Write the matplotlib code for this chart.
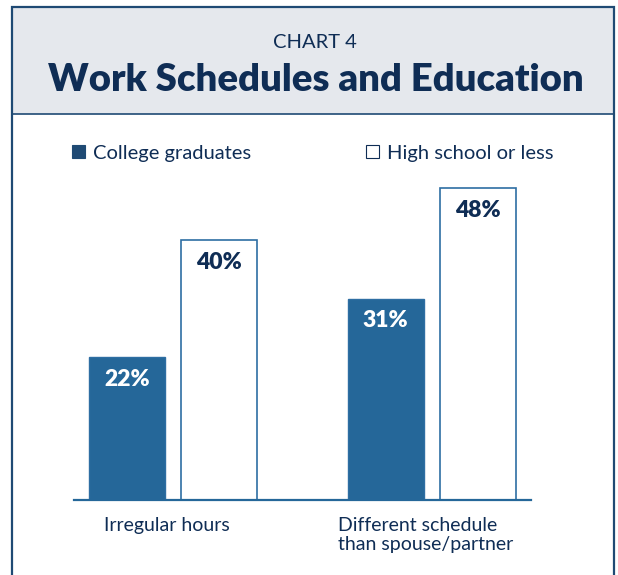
#!/usr/bin/env python3
"""Chart 4: work schedules and education (grouped bars)."""

import matplotlib

matplotlib.use("Agg")
import matplotlib.pyplot as plt
from matplotlib.patches import Patch, Rectangle

# data
categories = ["Irregular hours", "Different schedule\nthan spouse/partner"]
series_names = ["College graduates", "High school or less"]
college = [22, 31]
high_school = [40, 48]

NAVY = "#0f2d55"
BLUE = "#256799"
EDGE = "#2e6ea3"
BORDER = "#1f4a74"
HEADER_BG = "#e5e8ed"

W, H = 618, 575
plt.rcParams["font.family"] = ["Lato", "DejaVu Sans"]

fig = plt.figure(figsize=(W / 100, H / 100), dpi=100)


def fx(px):
    return px / W


def fy(py):
    return 1 - py / H


# outer box and header band
fig.patches.append(
    Rectangle((fx(12), fy(114)), fx(614) - fx(12), fy(7) - fy(114),
              transform=fig.transFigure, facecolor=HEADER_BG, edgecolor="none",
              zorder=0)
)
fig.patches.append(
    Rectangle((fx(12), -0.05), fx(614) - fx(12), fy(7) + 0.05,
              transform=fig.transFigure, facecolor="none", edgecolor=BORDER,
              linewidth=1.6, zorder=5)
)
fig.lines.append(
    plt.Line2D([fx(12), fx(614)], [fy(114), fy(114)], transform=fig.transFigure,
               color=BORDER, linewidth=1.2, zorder=5)
)

fig.text(fx(315), fy(42), "CHART 4", ha="center", va="center",
         fontsize=14.5, color=NAVY)
fig.text(fx(316), fy(80), "Work Schedules and Education", ha="center",
         va="center", fontsize=27.5, fontweight="heavy", color=NAVY)

# axes: baseline runs from x=74 to x=531 px at y=500 px
px_per_unit = 258.75
x_left = (74 - 172.75) / px_per_unit
x_right = (531 - 172.75) / px_per_unit
ymax = 50
px_per_pct = 6.5
top_px = 500 - ymax * px_per_pct
ax = fig.add_axes([fx(74), fy(500), fx(531) - fx(74), fy(top_px) - fy(500)])
ax.set_xlim(x_left, x_right)
ax.set_ylim(0, ymax)
ax.patch.set_alpha(0)

offset = 46 / px_per_unit
width = 76 / px_per_unit
xs = list(range(len(categories)))
b1 = ax.bar([x - offset for x in xs], college, width, color=BLUE,
            edgecolor=EDGE, linewidth=1.0, zorder=2)
b2 = ax.bar([x + offset for x in xs], high_school, width, color="white",
            edgecolor=EDGE, linewidth=1.2, zorder=2)

for bars, vals, col in ((b1, college, "white"), (b2, high_school, NAVY)):
    for bar, v in zip(bars, vals):
        ax.annotate(f"{v}%", (bar.get_x() + bar.get_width() / 2, v),
                    xytext=(0, -16), textcoords="offset points", ha="center",
                    va="center", fontsize=16.5, fontweight="heavy", color=col)

for s in ("top", "right", "left"):
    ax.spines[s].set_visible(False)
ax.spines["bottom"].set_color(BLUE)
ax.spines["bottom"].set_linewidth(1.6)
ax.spines["bottom"].set_zorder(3)
ax.set_xticks([])
ax.set_yticks([])

# category labels under the baseline
for x, lab in zip(xs, categories):
    ax.annotate(lab, (x, 0), xycoords=("data", "axes fraction"),
                xytext=(-4, -12), textcoords="offset points", ha="center",
                va="top", multialignment="left", fontsize=14, color=NAVY,
                linespacing=1.2)

# legend, two separate entries
for (px, name, fc) in ((72, series_names[0], BORDER), (366, series_names[1], "white")):
    h = Patch(facecolor=fc, edgecolor=NAVY if fc == "white" else fc, linewidth=0.8)
    leg = fig.legend([h], [name], loc="center left",
                     bbox_to_anchor=(fx(px), fy(153)), frameon=False,
                     fontsize=14.5, handlelength=0.65, handleheight=0.65,
                     handletextpad=0.4, borderpad=0, borderaxespad=0)
    for t in leg.get_texts():
        t.set_color(NAVY)

fig.savefig("out.png", dpi=100)
print("Wrote out.png")
